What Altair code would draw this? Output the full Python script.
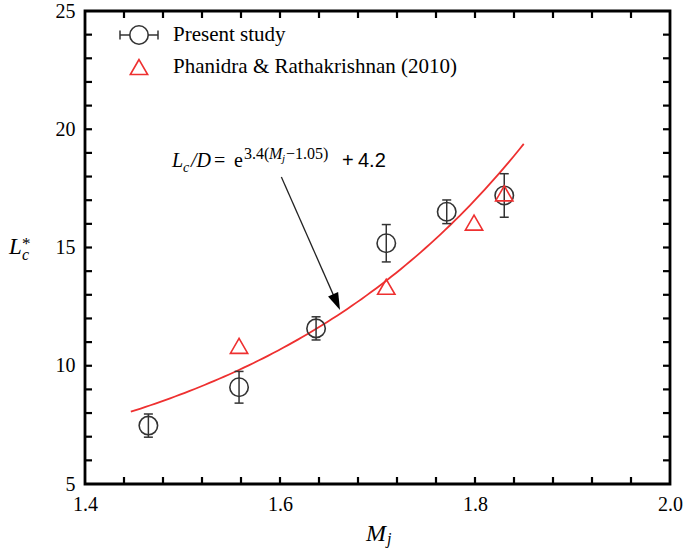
import altair as alt
import numpy as np
import pandas as pd

SERIF = "Liberation Serif"
SANS = "Liberation Sans"

# Present study: fully expanded jet Mach number, core length and its uncertainty
mj_present = [1.465, 1.558, 1.637, 1.709, 1.771, 1.830]
lc_present = [7.47, 9.09, 11.58, 15.18, 16.51, 17.20]
lc_err = [0.49, 0.67, 0.49, 0.79, 0.50, 0.92]

# Phanidra & Rathakrishnan (2010)
mj_ref = [1.558, 1.709, 1.799, 1.830]
lc_ref = [10.84, 13.34, 16.05, 17.29]

# Correlation L_c/D = exp(3.4 (Mj - 1.05)) + 4.2, drawn over 1.447 <= Mj <= 1.85
fit_k, fit_m0, fit_c = 3.4, 1.05, 4.2
fit_range = [1.447, 1.85]

# Axis ticks
x_labels = [1.4, 1.6, 1.8, 2.0]
y_labels = [5, 10, 15, 20, 25]
x_minor = [1.44, 1.48, 1.52, 1.56, 1.60, 1.64, 1.68, 1.72, 1.76, 1.80, 1.84, 1.88, 1.92, 1.96]
y_minor = [6, 7, 8, 9, 10, 11, 12, 13, 14, 15, 16, 17, 18, 19, 20, 21, 22, 23, 24]

series_names = ["Present study", "Phanidra & Rathakrishnan (2010)"]

# Annotation arrow (data coordinates): tail and head centre
arrow_tail = (1.6014, 17.98)
arrow_head = (1.658, 12.69)

W, H = 585, 473
BLACK = "#000000"
GREY = "#333333"
RED = "#ee3030"

xscale = alt.Scale(domain=[1.4, 2.0], nice=False, zero=False)
yscale = alt.Scale(domain=[5, 25], nice=False, zero=False)

label_style = dict(ticks=False, domain=False, grid=False, labelFont=SERIF, labelFontSize=20,
                   labelColor=BLACK, labelPadding=10, labelFlush=False)
xaxis = alt.Axis(values=x_labels, format=".1f", **label_style)
yaxis = alt.Axis(values=y_labels, format="d", **label_style)


def X(field):
    return alt.X(field, scale=xscale, axis=xaxis, title=None)


def Y(field):
    return alt.Y(field, scale=yscale, axis=yaxis, title=None)


present = pd.DataFrame({
    "mj": mj_present,
    "lc": lc_present,
    "lo": [v - e for v, e in zip(lc_present, lc_err)],
    "hi": [v + e for v, e in zip(lc_present, lc_err)],
})
ref = pd.DataFrame({"mj": mj_ref, "lc": lc_ref})
fit_mj = np.linspace(fit_range[0], fit_range[1], 81)
fit = pd.DataFrame({"mj": fit_mj, "lc": np.exp(fit_k * (fit_mj - fit_m0)) + fit_c})

# Inward ticks on all four sides of the frame
xt = pd.DataFrame({"v": x_minor})
yt = pd.DataFrame({"v": y_minor})
TL = 7
tick_style = dict(color=BLACK, strokeWidth=2.2)
ticks = [
    alt.Chart(xt).mark_rule(**tick_style).encode(x=X("v:Q"), y=alt.value(H), y2=alt.value(H - TL)),
    alt.Chart(xt).mark_rule(**tick_style).encode(x=X("v:Q"), y=alt.value(0), y2=alt.value(TL)),
    alt.Chart(yt).mark_rule(**tick_style).encode(y=Y("v:Q"), x=alt.value(0), x2=alt.value(TL)),
    alt.Chart(yt).mark_rule(**tick_style).encode(y=Y("v:Q"), x=alt.value(W), x2=alt.value(W - TL)),
]

fit_line = alt.Chart(fit).mark_line(color=RED, strokeWidth=1.8).encode(x=X("mj:Q"), y=Y("lc:Q"))

err_rule = alt.Chart(present).mark_rule(color=GREY, strokeWidth=1.5).encode(
    x=X("mj:Q"), y=Y("lo:Q"), y2="hi:Q")
cap_lo = alt.Chart(present).mark_tick(color=GREY, orient="horizontal", size=9, thickness=1.5, opacity=1).encode(
    x=X("mj:Q"), y=Y("lo:Q"))
cap_hi = alt.Chart(present).mark_tick(color=GREY, orient="horizontal", size=9, thickness=1.5, opacity=1).encode(
    x=X("mj:Q"), y=Y("hi:Q"))
circles = alt.Chart(present).mark_point(shape="circle", filled=False, size=340, stroke=GREY,
                                        strokeWidth=1.6, opacity=1).encode(x=X("mj:Q"), y=Y("lc:Q"))
triangles = alt.Chart(ref).mark_point(shape="triangle-up", filled=False, size=300, stroke=RED,
                                      strokeWidth=1.6, opacity=1).encode(x=X("mj:Q"), y=Y("lc:Q"))

arrow_df = pd.DataFrame({"x": [arrow_tail[0]], "y": [arrow_tail[1]], "x2": [arrow_head[0]], "y2": [arrow_head[1]]})
arrow_line = alt.Chart(arrow_df).mark_rule(color="#222222", strokeWidth=1.3).encode(
    x=X("x:Q"), y=Y("y:Q"), x2="x2:Q", y2="y2:Q")
arrow_tip = alt.Chart(arrow_df).mark_point(shape="M0,-1L0.65,1L-0.65,1Z", filled=True, size=289,
                                           color=BLACK, opacity=1, angle=156).encode(
    x=X("x2:Q"), y=Y("y2:Q"))


def label(txt, x, y, size, style="normal", font=SERIF, baseline="alphabetic"):
    return alt.Chart(pd.DataFrame({"t": [txt]})).mark_text(
        align="left", baseline=baseline, font=font, fontSize=size, fontStyle=style, color=BLACK
    ).encode(x=alt.value(x), y=alt.value(y), text="t:N")


# Correlation annotation
formula = [
    label("L", 87, 156, 20, "italic"),
    label("c", 98, 161, 14, "italic"),
    label("/D", 106, 156, 20, "italic"),
    label("=", 129, 156, 20),
    label("e", 149, 156, 20),
    label("3.4(", 159, 148, 16),
    label("M", 184, 148, 16, "italic"),
    label("j", 197, 151, 11, "italic"),
    label("\u22121.05)", 201, 148, 16),
    label("+", 257, 156, 20, font=SANS),
    label("4.2", 273, 156, 20, font=SANS),
]

# Axis titles
titles = [
    label("L", -76, 243, 23, "italic"),
    label("c", -63, 249, 16, "italic"),
    label("*", -63, 238, 17),
    label("M", 281, 530, 24, "italic"),
    label("j", 302, 533, 16, "italic"),
]

# Legend
leg = pd.DataFrame({"t": series_names})
legend = [
    alt.Chart(leg.iloc[[0]]).mark_rule(color=GREY, strokeWidth=1.5).encode(x=alt.value(35), x2=alt.value(73), y=alt.value(24)),
    alt.Chart(leg.iloc[[0]]).mark_rule(color=GREY, strokeWidth=1.5).encode(x=alt.value(35), y=alt.value(19.5), y2=alt.value(28.5)),
    alt.Chart(leg.iloc[[0]]).mark_rule(color=GREY, strokeWidth=1.5).encode(x=alt.value(73), y=alt.value(19.5), y2=alt.value(28.5)),
    alt.Chart(leg.iloc[[0]]).mark_point(shape="circle", filled=True, fill="white", size=340, stroke=GREY,
                                        strokeWidth=1.6, opacity=1).encode(x=alt.value(54), y=alt.value(24)),
    alt.Chart(leg.iloc[[1]]).mark_point(shape="triangle-up", filled=False, size=300, stroke=RED,
                                        strokeWidth=1.6, opacity=1).encode(x=alt.value(54), y=alt.value(56)),
    alt.Chart(leg.iloc[[0]]).mark_text(align="left", baseline="middle", font=SERIF, fontSize=21, color=BLACK).encode(
        x=alt.value(88), y=alt.value(24), text="t:N"),
    alt.Chart(leg.iloc[[1]]).mark_text(align="left", baseline="middle", font=SERIF, fontSize=21, color=BLACK).encode(
        x=alt.value(88), y=alt.value(56), text="t:N"),
]

chart = alt.layer(
    *ticks, fit_line, err_rule, cap_lo, cap_hi, circles, triangles,
    arrow_line, arrow_tip, *formula, *titles, *legend,
).properties(
    width=W, height=H,
    autosize=alt.AutoSizeParams(type="none"),
    padding={"left": 85, "top": 11, "right": 13, "bottom": 65},
).configure(
    background="white",
    view=alt.ViewConfig(stroke=BLACK, strokeWidth=2.8),
)

chart.save("out.html", embed_options={"renderer": "svg", "actions": False})
